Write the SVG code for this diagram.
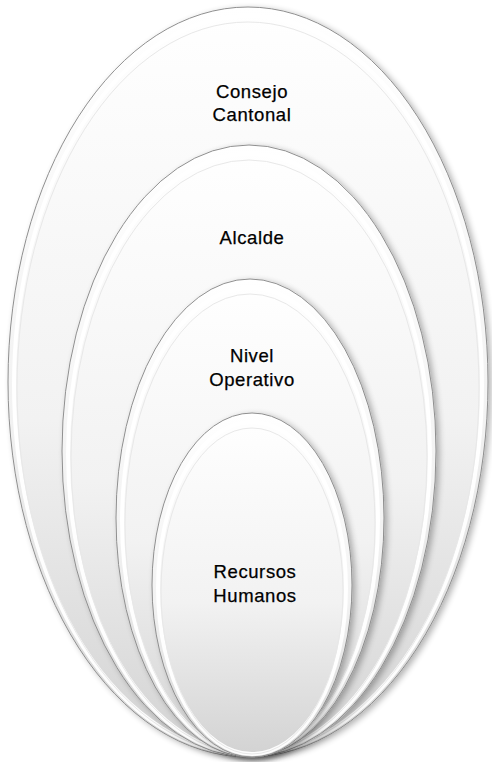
<svg xmlns="http://www.w3.org/2000/svg" width="492" height="762" viewBox="0 0 492 762">
<defs>
<linearGradient id="g" x1="0" y1="0" x2="0" y2="1">
<stop offset="0" stop-color="#ffffff"/>
<stop offset="0.55" stop-color="#f2f2f2"/>
<stop offset="1" stop-color="#d2d2d2"/>
</linearGradient>
<filter id="sh" x="-10%" y="-10%" width="120%" height="120%">
<feGaussianBlur in="SourceAlpha" stdDeviation="3"/>
<feOffset dx="3" dy="2" result="b"/>
<feComponentTransfer><feFuncA type="linear" slope="0.3"/></feComponentTransfer>
<feMerge><feMergeNode/><feMergeNode in="SourceGraphic"/></feMerge>
</filter>
</defs>
<style>
.shape{fill:url(#g);stroke:#8f8f8f;stroke-width:1;filter:url(#sh)}
.rim{fill:none;stroke:#ffffff;stroke-width:4;opacity:0.95}
.rim2{fill:none;stroke:#e8e8e8;stroke-width:1}
.lbl{font-family:"Liberation Sans",Arial,sans-serif;font-size:18.5px;fill:#000000;stroke:#000000;stroke-width:0.25;text-anchor:middle;letter-spacing:0.6px}
</style>
<rect width="492" height="762" fill="#ffffff"/>
<g id="consejo">
<ellipse class="shape" cx="248" cy="382" rx="240" ry="375"/>
<ellipse class="rim" cx="248" cy="385" rx="234" ry="369"/>
<ellipse class="rim2" cx="248" cy="388" rx="231" ry="366"/>
<text class="lbl" x="252" y="98">Consejo</text>
<text class="lbl" x="252" y="121">Cantonal</text>
</g>
<g id="alcalde">
<ellipse class="shape" cx="249" cy="451" rx="187" ry="306"/>
<ellipse class="rim" cx="249" cy="454" rx="181" ry="300"/>
<ellipse class="rim2" cx="249" cy="457" rx="178" ry="297"/>
<text class="lbl" x="252" y="244">Alcalde</text>
</g>
<g id="nivel">
<ellipse class="shape" cx="250" cy="518" rx="134" ry="239"/>
<ellipse class="rim" cx="250" cy="521" rx="128" ry="233"/>
<ellipse class="rim2" cx="250" cy="524" rx="125" ry="230"/>
<text class="lbl" x="252" y="362">Nivel</text>
<text class="lbl" x="252" y="386">Operativo</text>
</g>
<g id="recursos">
<ellipse class="shape" cx="252" cy="585" rx="100" ry="172"/>
<ellipse class="rim" cx="252" cy="588" rx="94" ry="166"/>
<ellipse class="rim2" cx="252" cy="591" rx="91" ry="163"/>
<text class="lbl" x="255" y="578">Recursos</text>
<text class="lbl" x="255" y="602">Humanos</text>
</g>
<g id="connectors"/>
</svg>
